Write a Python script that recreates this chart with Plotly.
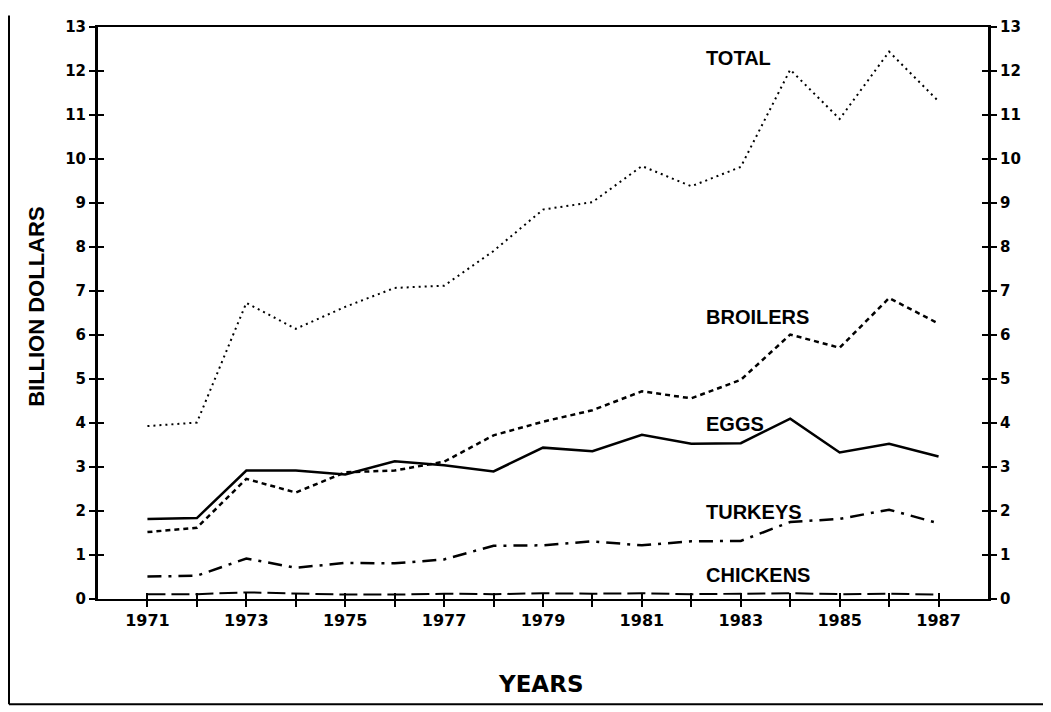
import plotly.graph_objects as go

years = list(range(1971, 1988))
total = [3.93, 4.01, 6.73, 6.14, 6.64, 7.07, 7.12, 7.91, 8.85, 9.02, 9.84, 9.38, 9.82, 12.03, 10.91, 12.44, 11.31]
broilers = [1.52, 1.62, 2.73, 2.42, 2.88, 2.92, 3.12, 3.72, 4.03, 4.29, 4.72, 4.56, 4.98, 6.01, 5.71, 6.84, 6.26]
eggs = [1.82, 1.84, 2.92, 2.92, 2.83, 3.13, 3.04, 2.90, 3.44, 3.36, 3.73, 3.53, 3.54, 4.10, 3.33, 3.53, 3.24]
turkeys = [0.51, 0.53, 0.92, 0.71, 0.82, 0.81, 0.90, 1.21, 1.22, 1.31, 1.22, 1.31, 1.32, 1.75, 1.82, 2.03, 1.72]
chickens = [0.11, 0.11, 0.15, 0.12, 0.10, 0.10, 0.12, 0.11, 0.13, 0.12, 0.13, 0.11, 0.12, 0.13, 0.11, 0.12, 0.10]

y_ticks = list(range(0, 14))
x_tick_labels = [str(y) if y % 2 == 1 else "" for y in years]

# label text and the value level where each label sits
label_names = ["TOTAL", "BROILERS", "EGGS", "TURKEYS", "CHICKENS"]
label_levels = [12.3, 6.42, 3.98, 1.97, 0.55]
label_year = 1982.25

BLACK = "black"
fig = go.Figure()

styles = [
    (total, dict(color=BLACK, width=2, dash="2px,4px")),
    (broilers, dict(color=BLACK, width=2.5, dash="5px,4px")),
    (eggs, dict(color=BLACK, width=2.5)),
    (turkeys, dict(color=BLACK, width=2.5, dash="14px,7px,3px,7px")),
    (chickens, dict(color=BLACK, width=2, dash="18px,6px")),
]
for (vals, ln), name in zip(styles, label_names):
    fig.add_trace(go.Scatter(x=years, y=vals, mode="lines", line=ln, name=name,
                             showlegend=False))

# invisible carriers so that the overlay axes (crossing ticks, right axis) get drawn
for xa, ya in [("x", "y2"), ("x", "y3"), ("x", "y4"), ("x2", "y")]:
    fig.add_trace(go.Scatter(x=years, y=eggs, xaxis=xa, yaxis=ya, mode="lines",
                             line=dict(width=0, color="rgba(0,0,0,0)"), opacity=0,
                             hoverinfo="skip", showlegend=False))

tickfont_x = dict(family="DejaVu Sans", size=16, color=BLACK, weight="bold")
tickfont_y = dict(family="DejaVu Sans", size=15, color=BLACK, weight="bold")

for name, lvl in zip(label_names, label_levels):
    fig.add_annotation(x=label_year, y=lvl, text=name, showarrow=False,
                       xanchor="left", yanchor="middle",
                       font=dict(family="Liberation Sans", size=20, color=BLACK, weight="bold"))

fig.add_annotation(xref="paper", yref="paper", x=-0.069, y=0.51, text="BILLION DOLLARS",
                   textangle=-90, showarrow=False, xanchor="center", yanchor="middle",
                   font=dict(family="Liberation Sans", size=22, color=BLACK, weight="bold"))
fig.add_annotation(xref="paper", yref="paper", x=0.497, y=-0.148, text="YEARS",
                   showarrow=False, xanchor="center", yanchor="middle",
                   font=dict(family="DejaVu Sans", size=23, color=BLACK, weight="bold"))

# outer frame (left and bottom edges of the scanned box)
fig.add_shape(type="line", xref="paper", yref="paper", x0=-0.10, x1=-0.10, y0=1.02, y1=-0.184,
              line=dict(color=BLACK, width=2))
fig.add_shape(type="line", xref="paper", yref="paper", x0=-0.10, x1=1.07, y0=-0.184, y1=-0.184,
              line=dict(color=BLACK, width=2))

common_x = dict(range=[1970, 1988], tickvals=years, showgrid=False, zeroline=False)
common_y = dict(range=[0, 13], tickvals=y_ticks, showgrid=False, zeroline=False)

fig.update_layout(
    width=1043, height=704,
    margin=dict(l=90, r=63, t=10, b=113),
    paper_bgcolor="white", plot_bgcolor="white",
    xaxis=dict(**common_x, ticktext=x_tick_labels, ticks="outside", ticklen=6, tickwidth=2,
               tickcolor=BLACK, showline=True, linewidth=2, linecolor=BLACK, mirror=True,
               tickfont=tickfont_x),
    xaxis2=dict(**common_x, overlaying="x", anchor="y", side="bottom", ticks="inside",
                ticklen=6, tickwidth=2, tickcolor=BLACK, showticklabels=False, showline=False),
    yaxis=dict(**common_y, ticks="outside", ticklen=6, tickwidth=2, tickcolor=BLACK,
               showline=True, linewidth=3, linecolor=BLACK, tickfont=tickfont_y),
    yaxis2=dict(**common_y, overlaying="y", side="right", anchor="x", ticks="outside", ticklen=6,
                tickwidth=2, tickcolor=BLACK, showline=True, linewidth=3, linecolor=BLACK,
                tickfont=tickfont_y),
    yaxis3=dict(**common_y, overlaying="y", side="left", anchor="x", ticks="inside", ticklen=6,
                tickwidth=2, tickcolor=BLACK, showticklabels=False),
    yaxis4=dict(**common_y, overlaying="y", side="right", anchor="x", ticks="inside", ticklen=6,
                tickwidth=2, tickcolor=BLACK, showticklabels=False),
)

fig.write_html("out.html")
